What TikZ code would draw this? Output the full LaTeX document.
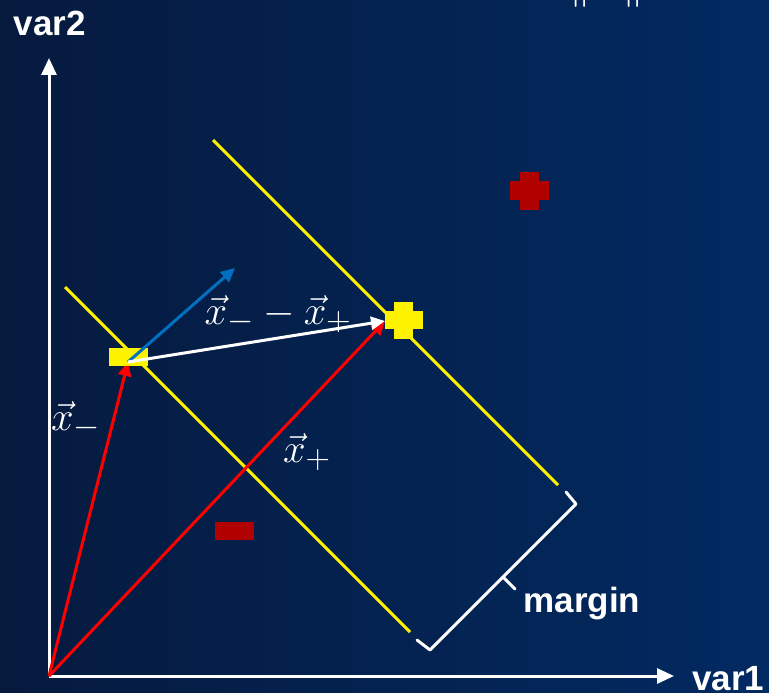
\documentclass[tikz,border=0pt]{standalone}
\usepackage{fontspec}
\setmainfont{Liberation Sans}
\usetikzlibrary{arrows.meta}
\definecolor{bgleft}{RGB}{6,26,62}
\definecolor{bgright}{RGB}{2,42,98}
\definecolor{sym}{RGB}{176,0,0}
\definecolor{vblue}{RGB}{0,112,192}
\newcommand{\bigmath}[1]{\scalebox{1.63}{$#1$}}
\tikzset{
  axis/.style={white, line width=3pt, -{Triangle[length=17pt,width=15pt]}},
  margline/.style={yellow, line width=3pt},
  vec/.style={line width=3pt, -{Triangle[length=14pt,width=13pt]}},
  lab/.style={white, font=\bfseries\fontsize{35}{40}\selectfont, inner sep=0pt},
  mlab/.style={white, font=\fontsize{30}{36}\selectfont, inner sep=0pt},
  brace/.style={white, line width=3pt, line cap=round, line join=round}
}
\begin{document}
\begin{tikzpicture}[x=1pt,y=-1pt]
\useasboundingbox (0,0) rectangle (769,693);
\shade[left color=bgleft, right color=bgright] (0,0) rectangle (769,693);
% axes
\coordinate (O) at (49,676);
\coordinate (ytip) at (49,58);
\coordinate (xtip) at (674,676);
\draw[axis] (O) -- (ytip);
\draw[axis] (O) -- (xtip);
\node[lab] (var2) at (50,23) {var2};
\node[lab, anchor=west] (var1) at (692,679) {var1};
% margin lines
\coordinate (l1a) at (65,287); \coordinate (l1b) at (410,632);
\coordinate (l2a) at (213,140); \coordinate (l2b) at (558,485);
\draw[margline] (l1a) -- (l1b);
\draw[margline] (l2a) -- (l2b);
% symbols
\fill[sym] (215,522) rectangle (254,540);
\fill[sym] (510,181) rectangle (549,200);
\fill[sym] (520,172) rectangle (539,210);
% points
\coordinate (xm) at (128,362);
\coordinate (xp) at (385,321);
% vectors
\draw[vec, red] (O) -- (xm);
\draw[vec, red] (O) -- (xp);
\fill[yellow] (109,348) rectangle (148,366);
\draw[vec, vblue] (xm) -- (235,268) coordinate (wtip);
\draw[vec, white] (xm) -- (xp);
\fill[yellow] (385,311) rectangle (423,329);
\fill[yellow] (394,302) rectangle (413,339);
% labels
\node[mlab] (dlab) at (278,314) {\bigmath{\vec{x}_{-}-\vec{x}_{+}}};
\node[mlab] (xmlab) at (76,420) {\bigmath{\vec{x}_{-}}};
\node[mlab] (xplab) at (307,452) {\bigmath{\vec{x}_{+}}};
% brace
\coordinate (b1) at (566,492);
\coordinate (b2) at (576,504);
\coordinate (bm) at (503,577);
\coordinate (bt) at (515,589);
\coordinate (b3) at (430,650);
\coordinate (b4) at (417,640);
\draw[brace] (b1) -- (b2) -- (b3) -- (b4);
\draw[brace] (bm) -- (bt);
\node[lab] (margin) at (582,604) {margin};
% cut-off text at top
\node[mlab, anchor=south] (wnorm) at (607,8) {\scalebox{1.75}{$\|w\|$}};
\end{tikzpicture}
\end{document}
